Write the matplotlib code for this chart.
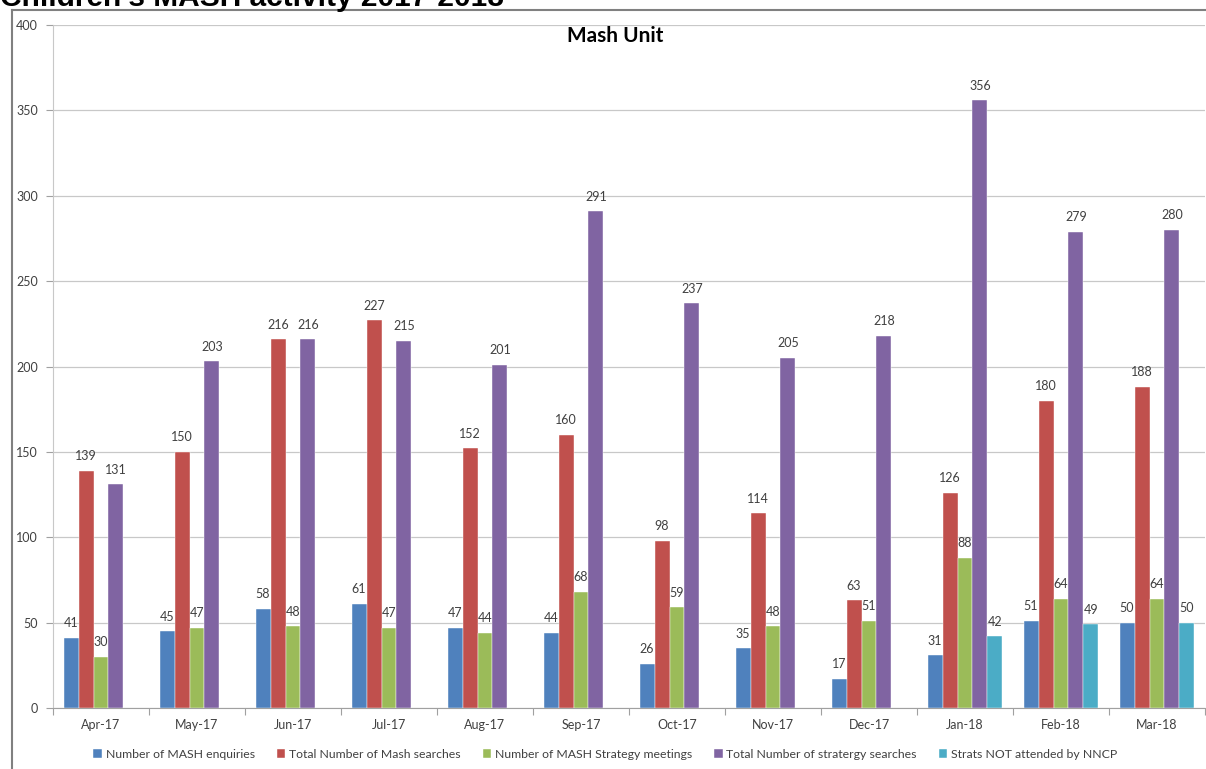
import matplotlib
matplotlib.use("Agg")
import matplotlib.pyplot as plt
from matplotlib.lines import Line2D
import numpy as np

plt.rcParams['font.family'] = ['Lato', 'DejaVu Sans']

months = ["Apr-17", "May-17", "Jun-17", "Jul-17", "Aug-17", "Sep-17",
          "Oct-17", "Nov-17", "Dec-17", "Jan-18", "Feb-18", "Mar-18"]
mash_enquiries = [41, 45, 58, 61, 47, 44, 26, 35, 17, 31, 51, 50]
mash_searches = [139, 150, 216, 227, 152, 160, 98, 114, 63, 126, 180, 188]
strategy_meetings = [30, 47, 48, 47, 44, 68, 59, 48, 51, 88, 64, 64]
strategy_searches = [131, 203, 216, 215, 201, 291, 237, 205, 218, 356, 279, 280]
strats_not_attended = [None, None, None, None, None, None, None, None, None, 42, 49, 50]

series_names = ["Number of MASH enquiries", "Total Number of Mash searches",
                "Number of MASH Strategy meetings", "Total Number of stratergy searches",
                "Strats NOT attended by NNCP"]
series_values = [mash_enquiries, mash_searches, strategy_meetings,
                 strategy_searches, strats_not_attended]
colors = ["#4F81BD", "#C0504D", "#9BBB59", "#8064A2", "#4BACC6"]

W, H = 1206, 769
fig = plt.figure(figsize=(W / 100, H / 100), dpi=100)
ax = fig.add_axes([53 / W, 1 - 708 / H, 1152 / W, (708 - 25) / H])

x = np.arange(len(months))
bw = 0.156
text_col = "#404040"
for k, (name, vals, col) in enumerate(zip(series_names, series_values, colors)):
    xs = [xi + (k - 2) * bw for xi, v in zip(x, vals) if v is not None]
    vs = [v for v in vals if v is not None]
    bars = ax.bar(xs, vs, width=bw, color=col, label=name, zorder=3,
                  edgecolor="white", linewidth=0.3)
    for b, v in zip(bars, vs):
        ax.text(b.get_x() + b.get_width() / 2, v + 5, str(v), ha="center",
                va="bottom", fontsize=9, color=text_col)

ax.set_xlim(-0.5, len(months) - 0.5)
ax.set_ylim(0, 400)
ax.set_yticks(np.arange(0, 401, 50))
ax.set_xticks(x)
ax.set_xticklabels(months, fontsize=9, color=text_col)
ax.set_xticks(np.arange(-0.5, len(months), 1), minor=True)
ax.tick_params(axis="x", which="major", length=0, pad=8)
ax.tick_params(axis="x", which="minor", length=5, color="#A0A0A0", width=0.8)
ax.tick_params(axis="y", length=5, color="#A0A0A0", width=0.8, labelsize=9,
               labelcolor=text_col, pad=6)
ax.grid(axis="y", color="#C8C8C8", linewidth=0.9, zorder=0)
for s in ["top", "right"]:
    ax.spines[s].set_visible(False)
ax.spines["left"].set_color("#C8C8C8")
ax.spines["bottom"].set_color("#A0A0A0")

fig.text(615 / W, 1 - 36 / H, "Mash Unit", ha="center", va="center",
         fontsize=15, fontweight="bold", color="black")

fig.legend(loc="center", bbox_to_anchor=(0.502, 15 / H), ncol=5, frameon=False,
           fontsize=8.8, handlelength=0.7, handleheight=0.7, handletextpad=0.3,
           columnspacing=1.8, labelcolor=text_col)

# outer chart frame
fig.add_artist(Line2D([12 / W, 12 / W], [0, 1 - 10 / H], color="#808080",
                      linewidth=1.5, transform=fig.transFigure))
fig.add_artist(Line2D([12 / W, 1], [1 - 10 / H, 1 - 10 / H], color="#808080",
                      linewidth=1.5, transform=fig.transFigure))

# page heading above the frame
fig.text(0.0, 1 - 6 / H, "Children's MASH activity 2017-2018", ha="left",
         va="baseline", fontsize=21.5, fontweight="bold", color="black",
         family=["Liberation Sans", "DejaVu Sans"])

fig.savefig("out.png", dpi=100)
